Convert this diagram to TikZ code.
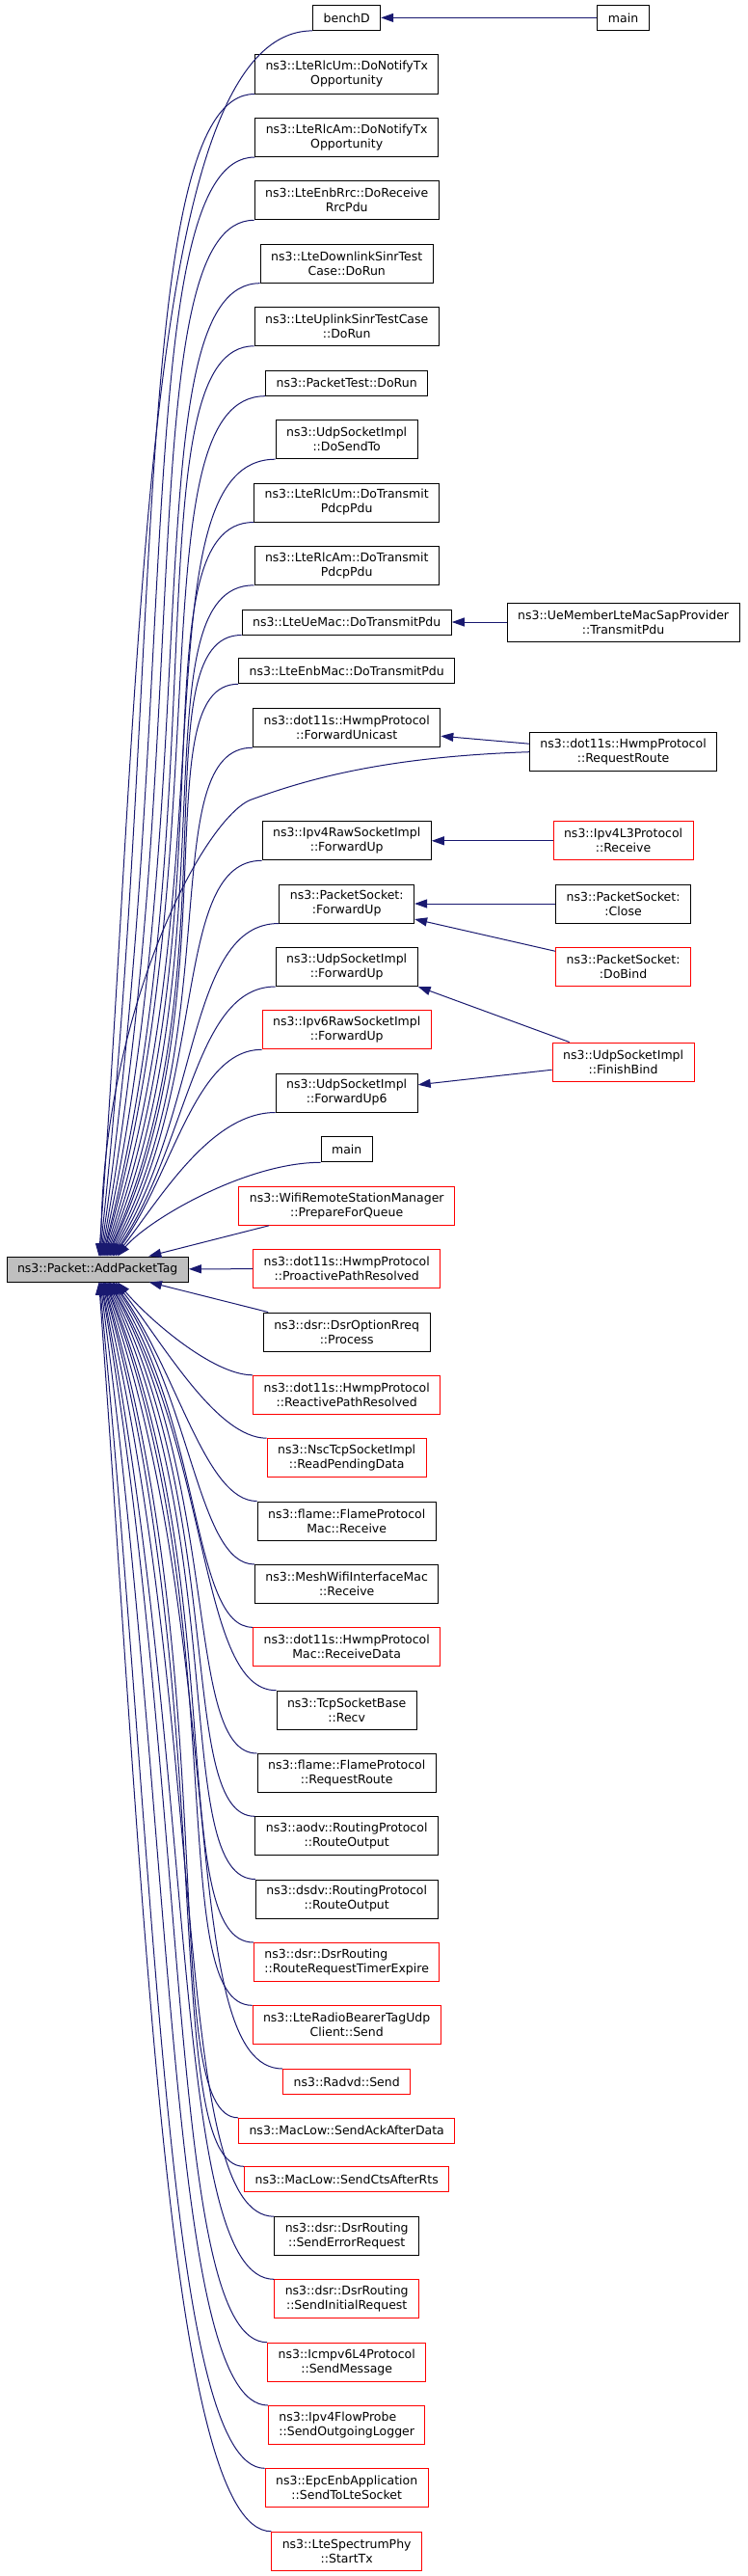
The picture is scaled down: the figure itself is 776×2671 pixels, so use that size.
\documentclass[tikz,border=0pt]{standalone}
\usepackage{fontspec}
\setmainfont{DejaVu Sans}
\usetikzlibrary{arrows.meta,calc}
\definecolor{midnight}{HTML}{191970}
\definecolor{boxgray}{HTML}{BFBFBF}
\begin{document}
\begin{tikzpicture}[x=1pt, y=-1pt,
  fn/.style={draw=black, line width=1pt, fill=white, align=center, inner xsep=11pt, inner ysep=5pt,
    minimum height=26pt, font=\fontsize{12.5}{15}\selectfont},
  fnred/.style={fn, draw=red},
  dbl/.style={minimum height=40pt},
  edge/.style={draw=midnight, line width=1pt, -{Triangle[length=13pt,width=9pt]}}]
\fill [white] (0, 0) rectangle (776, 2671);
\useasboundingbox (0, 0) rectangle (776, 2671);

% callers above
\node [fn] (benchd) at (359.7, 18.4) {benchD};
\node [fn] (main2) at (646.6, 18.4) {main};
\node [fn, dbl] (rlcumnotify) at (359.7, 77) {ns3::LteRlcUm::DoNotifyTx\\Opportunity};
\node [fn, dbl] (rlcamnotify) at (359.7, 142.5) {ns3::LteRlcAm::DoNotifyTx\\Opportunity};
\node [fn, dbl] (enbrrc) at (359.7, 207.8) {ns3::LteEnbRrc::DoReceive\\RrcPdu};
\node [fn, dbl] (dlsinr) at (359.7, 273.2) {ns3::LteDownlinkSinrTest\\Case::DoRun};
\node [fn, dbl] (ulsinr) at (359.7, 338.3) {ns3::LteUplinkSinrTestCase\\::DoRun};
\node [fn] (pkttest) at (359.7, 397.2) {ns3::PacketTest::DoRun};
\node [fn, dbl] (udpsendto) at (359.7, 455.7) {ns3::UdpSocketImpl\\::DoSendTo};
\node [fn, dbl] (rlcumtx) at (359.7, 521) {ns3::LteRlcUm::DoTransmit\\PdcpPdu};
\node [fn, dbl] (rlcamtx) at (359.7, 586.3) {ns3::LteRlcAm::DoTransmit\\PdcpPdu};
\node [fn] (uemac) at (359.7, 645) {ns3::LteUeMac::DoTransmitPdu};
\node [fn, dbl] (uemember) at (646.6, 645) {ns3::UeMemberLteMacSapProvider\\::TransmitPdu};
\node [fn] (enbmac) at (359.7, 695.8) {ns3::LteEnbMac::DoTransmitPdu};
\node [fn, dbl] (fwdunicast) at (359.7, 754.7) {ns3::dot11s::HwmpProtocol\\::ForwardUnicast};
\node [fn, dbl] (reqroute) at (646.6, 779.7) {ns3::dot11s::HwmpProtocol\\::RequestRoute};
\node [fn, dbl] (ipv4raw) at (359.7, 871.8) {ns3::Ipv4RawSocketImpl\\::ForwardUp};
\node [fnred, dbl] (ipv4l3) at (646.6, 871.8) {ns3::Ipv4L3Protocol\\::Receive};
\node [fn, dbl] (pktsockfwd) at (359.7, 937) {ns3::PacketSocket:\\:ForwardUp};
\node [fn, dbl] (pktsockclose) at (646.6, 937) {ns3::PacketSocket:\\:Close};
\node [fnred, dbl] (pktsockbind) at (646.6, 1002.3) {ns3::PacketSocket:\\:DoBind};
\node [fn, dbl] (udpfwd) at (359.7, 1002.5) {ns3::UdpSocketImpl\\::ForwardUp};
\node [fnred, dbl] (ipv6raw) at (359.7, 1067.8) {ns3::Ipv6RawSocketImpl\\::ForwardUp};
\node [fnred, dbl] (finishbind) at (646.6, 1101) {ns3::UdpSocketImpl\\::FinishBind};
\node [fn, dbl] (udpfwd6) at (359.7, 1133) {ns3::UdpSocketImpl\\::ForwardUp6};
\node [fn] (mainmid) at (359.7, 1191.8) {main};
\node [fnred, dbl] (prepqueue) at (359.7, 1250.3) {ns3::WifiRemoteStationManager\\::PrepareForQueue};
\node [fnred, dbl] (proactive) at (359.7, 1315.5) {ns3::dot11s::HwmpProtocol\\::ProactivePathResolved};

\node [fn, fill=boxgray] (apt) at (101.2, 1316) {ns3::Packet::AddPacketTag};

% callers below
\node [fn, dbl] (rreqproc) at (359.7, 1381) {ns3::dsr::DsrOptionRreq\\::Process};
\node [fnred, dbl] (reactive) at (359.7, 1446.3) {ns3::dot11s::HwmpProtocol\\::ReactivePathResolved};
\node [fnred, dbl] (nscread) at (359.7, 1511.7) {ns3::NscTcpSocketImpl\\::ReadPendingData};
\node [fn, dbl] (flamemac) at (359.7, 1577) {ns3::flame::FlameProtocol\\Mac::Receive};
\node [fn, dbl] (meshrecv) at (359.7, 1642.5) {ns3::MeshWifiInterfaceMac\\::Receive};
\node [fnred, dbl] (rcvdata) at (359.7, 1707.8) {ns3::dot11s::HwmpProtocol\\Mac::ReceiveData};
\node [fn, dbl] (tcprecv) at (359.7, 1773.2) {ns3::TcpSocketBase\\::Recv};
\node [fn, dbl] (flamereq) at (359.7, 1838.5) {ns3::flame::FlameProtocol\\::RequestRoute};
\node [fn, dbl] (aodv) at (359.7, 1903.8) {ns3::aodv::RoutingProtocol\\::RouteOutput};
\node [fn, dbl] (dsdv) at (359.7, 1969) {ns3::dsdv::RoutingProtocol\\::RouteOutput};
\node [fnred, dbl, align=left] (rreqtimer) at (359.7, 2034.5) {ns3::dsr::DsrRouting\\::RouteRequestTimerExpire};
\node [fnred, dbl] (radiobearer) at (359.7, 2099.8) {ns3::LteRadioBearerTagUdp\\Client::Send};
\node [fnred] (radvd) at (359.7, 2158.5) {ns3::Radvd::Send};
\node [fnred] (sendack) at (359.7, 2209.3) {ns3::MacLow::SendAckAfterData};
\node [fnred] (sendcts) at (359.7, 2259.8) {ns3::MacLow::SendCtsAfterRts};
\node [fn, dbl] (senderr) at (359.7, 2318.7) {ns3::dsr::DsrRouting\\::SendErrorRequest};
\node [fnred, dbl] (sendinit) at (359.7, 2383.8) {ns3::dsr::DsrRouting\\::SendInitialRequest};
\node [fnred, dbl] (icmpv6) at (359.7, 2449.2) {ns3::Icmpv6L4Protocol\\::SendMessage};
\node [fnred, dbl, align=left] (flowprobe) at (359.7, 2514.5) {ns3::Ipv4FlowProbe\\::SendOutgoingLogger};
\node [fnred, dbl] (epcenb) at (359.7, 2579.8) {ns3::EpcEnbApplication\\::SendToLteSocket};
\node [fnred, dbl] (starttx) at (359.7, 2645.2) {ns3::LteSpectrumPhy\\::StartTx};

% edges into AddPacketTag
\foreach \nd [count=\i from 0] in {benchd, rlcumnotify, rlcamnotify, enbrrc, dlsinr, ulsinr, pkttest,
    udpsendto, rlcumtx, rlcamtx, uemac, enbmac, fwdunicast, ipv4raw, pktsockfwd, udpfwd, ipv6raw,
    udpfwd6, mainmid} {
  \pgfmathtruncatemacro{\ang}{84-2.8*\i}
  \pgfmathsetmacro{\dir}{\ang+0.3*(90-\ang)}
  \draw [edge] let \p1 = (\nd.south west), \p2 = (apt.\ang),
      \n1 = {0.3+0.5*min(1,((\y1)-(\y2))/700)}, \n2 = {0.5*((\y1)-(\y2))} in
    (\p1) .. controls +({\n1*((\x2)-(\x1))}, 0pt) and +({\n2*cos(\dir)}, {\n2*sin(\dir)}) .. (\p2);
}
\foreach \nd [count=\i from 0] in {starttx, epcenb, flowprobe, icmpv6, sendinit, senderr, sendcts,
    sendack, radvd, radiobearer, rreqtimer, dsdv, aodv, flamereq, tcprecv, rcvdata, meshrecv,
    flamemac, nscread, reactive} {
  \pgfmathtruncatemacro{\ang}{276+2.7*\i}
  \pgfmathsetmacro{\dir}{(360-\ang)+0.3*(\ang-270)}
  \draw [edge] let \p1 = (\nd.north west), \p2 = (apt.\ang),
      \n1 = {0.25+0.35*min(1,((\y2)-(\y1))/700)}, \n2 = {0.5*((\y2)-(\y1))} in
    (\p1) .. controls +({\n1*((\x2)-(\x1))}, 0pt) and +({\n2*cos(\dir)}, {-\n2*sin(\dir)}) .. (\p2);
}
\coordinate (rrbend) at ($(reqroute.west)+(-290, 50)$);
\draw [edge] (reqroute.west) .. controls +(-150, 5) and +(60, -22) .. (rrbend)
  .. controls +(-50, 23) and +(0, -250) .. (apt.75);
\draw [edge] (prepqueue) -- (apt);
\draw [edge] (proactive) -- (apt);
\draw [edge] (rreqproc) -- (apt);

% second level callers
\draw [edge] (main2) -- (benchd);
\draw [edge] (uemember) -- (uemac);
\draw [edge] (reqroute) -- (fwdunicast);
\draw [edge] (ipv4l3) -- (ipv4raw);
\draw [edge] (pktsockclose) -- (pktsockfwd);
\draw [edge] (pktsockbind) -- (pktsockfwd);
\draw [edge] (finishbind) -- (udpfwd.south east);
\draw [edge] (finishbind) -- (udpfwd6);
\end{tikzpicture}
\end{document}
